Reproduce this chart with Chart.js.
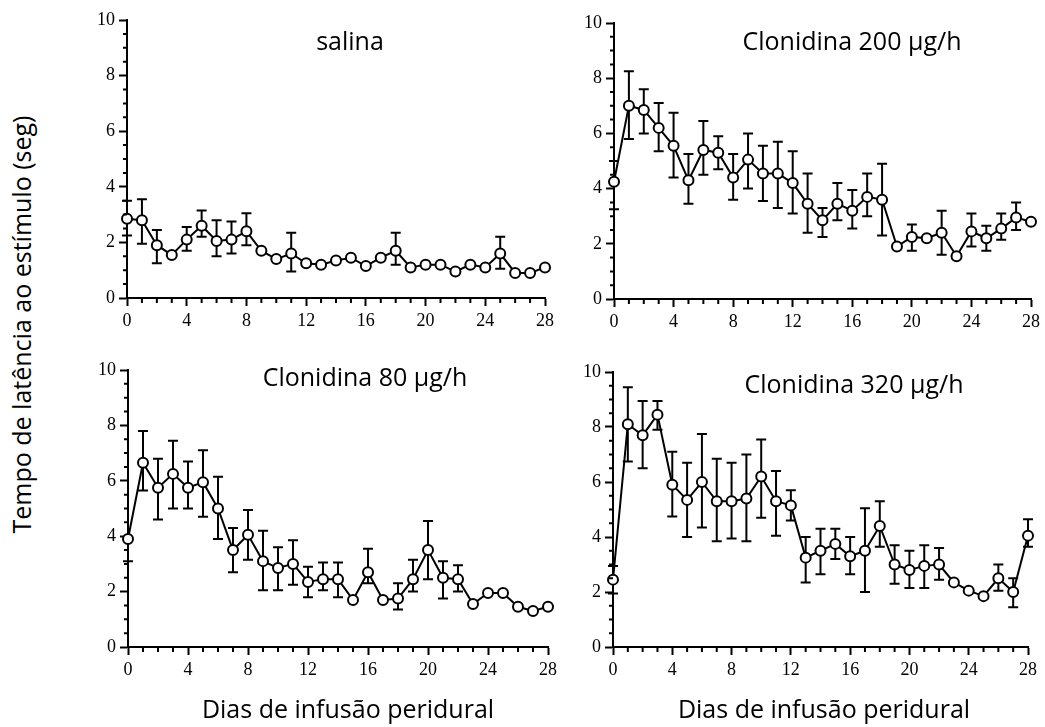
<!DOCTYPE html>
<html>
<head>
<meta charset="utf-8">
<script src="https://cdn.jsdelivr.net/npm/chart.js@4.4.1/dist/chart.umd.min.js"></script>
<style>
  body { margin: 0; background: #fff; width: 1045px; height: 727px; overflow: hidden; position: relative; }
  canvas { position: absolute; }
  .txt { position: absolute; font-family: "Open Sans", sans-serif; font-size: 25px; line-height: 25px; color: #000; white-space: nowrap; transform: translateX(-50%); }
  #ylab { position: absolute; font-family: "Open Sans", sans-serif; font-size: 25px; line-height: 25px; color: #000; white-space: nowrap; width: 500px; height: 25px; text-align: center; transform: rotate(-90deg); }
</style>
</head>
<body>
<canvas id="c1" width="498" height="343" style="left:67px;top:0px"></canvas>
<canvas id="c2" width="490" height="341" style="left:554px;top:3px"></canvas>
<canvas id="c3" width="500" height="342" style="left:68px;top:350px"></canvas>
<canvas id="c4" width="488" height="340" style="left:553px;top:352px"></canvas>

<div class="txt" style="left:350px;top:28px">salina</div>
<div class="txt" style="left:852px;top:28px">Clonidina 200 µg/h</div>
<div class="txt" style="left:365px;top:364px">Clonidina 80 µg/h</div>
<div class="txt" style="left:854px;top:371px">Clonidina 320 µg/h</div>
<div class="txt" style="left:348px;top:696px">Dias de infusão peridural</div>
<div class="txt" style="left:824px;top:696px">Dias de infusão peridural</div>
<div id="ylab" style="left:-229px;top:312px">Tempo de latência ao estímulo (seg)</div>

<script>
const days = [0,1,2,3,4,5,6,7,8,9,10,11,12,13,14,15,16,17,18,19,20,21,22,23,24,25,26,27,28];
const xTicks = [0,4,8,12,16,20,24,28];
const yTicks = [0,2,4,6,8,10];

const salinaMean = [2.85,2.8,1.9,1.55,2.1,2.6,2.05,2.1,2.4,1.7,1.4,1.6,1.25,1.2,1.35,1.45,1.15,1.45,1.7,1.1,1.2,1.2,0.95,1.2,1.1,1.6,0.9,0.9,1.1];
const salinaUp   = [3.5,3.55,2.45,null,2.55,3.15,2.8,2.75,3.05,null,null,2.35,null,null,null,null,null,null,2.35,null,null,null,null,null,null,2.2,null,null,null];
const salinaLow  = [2.25,1.95,1.25,null,1.7,2.2,1.5,1.6,1.9,null,null,0.95,null,null,null,null,null,null,1.2,null,null,null,null,null,null,1.05,null,null,null];

const c200Mean = [4.25,7.0,6.85,6.2,5.55,4.3,5.4,5.3,4.4,5.05,4.55,4.55,4.2,3.45,2.85,3.45,3.2,3.7,3.6,1.9,2.25,2.2,2.4,1.55,2.45,2.2,2.55,2.95,2.8];
const c200Up   = [5.0,8.25,7.6,7.1,6.75,5.25,6.45,5.9,5.25,6.0,5.55,5.7,5.35,4.55,3.3,4.2,3.95,4.55,4.9,null,2.7,null,3.2,null,3.1,2.65,3.1,3.5,null];
const c200Low  = [3.25,5.8,6.0,5.35,4.4,3.45,4.5,4.7,3.6,4.0,3.55,3.3,3.1,2.4,2.25,2.85,2.55,3.0,2.3,null,1.75,null,1.6,null,1.9,1.75,2.15,2.5,null];

const c80Mean = [3.9,6.65,5.75,6.25,5.75,5.95,5.0,3.5,4.05,3.1,2.85,3.0,2.35,2.45,2.45,1.7,2.7,1.7,1.75,2.45,3.5,2.5,2.45,1.55,1.95,1.95,1.45,1.3,1.45];
const c80Up   = [null,7.8,6.8,7.45,6.7,7.1,6.15,4.3,4.95,4.2,3.6,3.85,2.9,3.05,3.05,null,3.55,null,2.3,3.15,4.55,3.1,2.95,null,null,null,null,null,null];
const c80Low  = [3.1,5.65,4.6,5.0,5.0,4.7,3.9,2.7,3.15,2.05,2.05,2.25,1.8,2.05,1.8,null,2.3,null,1.35,2.0,2.45,1.75,2.0,null,null,null,null,null,null];

const c320Mean = [2.45,8.1,7.7,8.45,5.9,5.35,6.0,5.3,5.3,5.4,6.2,5.3,5.15,3.25,3.5,3.75,3.3,3.5,4.4,3.0,2.8,2.95,3.0,2.35,2.05,1.85,2.5,2.0,4.05];
const c320Up   = [2.95,9.45,8.95,8.95,7.1,6.7,7.75,6.85,6.7,7.0,7.55,6.4,5.7,4.0,4.3,4.3,4.0,5.05,5.3,3.7,3.5,3.7,3.6,null,null,null,3.0,2.5,4.65];
const c320Low  = [1.95,6.75,6.5,7.9,4.75,4.0,4.35,3.85,3.95,3.85,4.7,4.05,4.6,2.35,2.65,3.2,2.65,2.0,3.65,2.3,2.15,2.15,2.45,null,null,null,2.05,1.45,3.65];

// error bars behind the circles
const errorBars = {
  id: 'errorBars',
  beforeDatasetsDraw(chart) {
    const ctx = chart.ctx;
    const ys = chart.scales.y;
    const pts = chart.getDatasetMeta(0).data;
    const up = chart.options.plugins.errorBars.up;
    const low = chart.options.plugins.errorBars.low;
    ctx.save();
    ctx.strokeStyle = '#000';
    ctx.lineWidth = 2;
    pts.forEach((p, i) => {
      [up[i], low[i]].forEach(v => {
        if (v == null) return;
        const yy = ys.getPixelForValue(v);
        ctx.beginPath();
        ctx.moveTo(p.x, p.y);
        ctx.lineTo(p.x, yy);
        ctx.moveTo(p.x - 5, yy);
        ctx.lineTo(p.x + 5, yy);
        ctx.stroke();
      });
    });
    ctx.restore();
  }
};

// small ticks between the labelled ones
const minorTicks = {
  id: 'minorTicks',
  afterDraw(chart) {
    const ctx = chart.ctx;
    const xs = chart.scales.x, ys = chart.scales.y;
    const a = chart.chartArea;
    ctx.save();
    ctx.strokeStyle = '#000';
    ctx.lineWidth = 2;
    ctx.beginPath();
    for (let v = 0.5; v < 10; v += 0.5) {
      if (v % 2 === 0) continue;
      const yy = ys.getPixelForValue(v);
      ctx.moveTo(a.left - 4, yy);
      ctx.lineTo(a.left, yy);
    }
    days.forEach(d => {
      if (d % 4 === 0) return;
      const xx = xs.getPixelForValue(d);
      ctx.moveTo(xx, a.bottom);
      ctx.lineTo(xx, a.bottom + 5);
    });
    ctx.stroke();
    ctx.restore();
  }
};

function makePanel(id, mean, up, low, padRight) {
  const tickFont = { family: '"Liberation Serif", serif', size: 18 };
  return new Chart(id, {
    type: 'line',
    data: {
      datasets: [{
        data: days.map((d, i) => ({ x: d, y: mean[i] })),
        borderColor: '#000',
        borderWidth: 2,
        pointRadius: 5,
        pointBorderWidth: 2,
        pointBackgroundColor: '#fff',
        pointBorderColor: '#000',
        tension: 0,
        clip: false
      }]
    },
    options: {
      responsive: false,
      animation: false,
      devicePixelRatio: 1,
      layout: { padding: { left: 0, top: 20, right: padRight, bottom: 0 } },
      plugins: {
        legend: { display: false },
        tooltip: { enabled: false },
        errorBars: { up: up, low: low }
      },
      scales: {
        x: {
          type: 'linear', min: 0, max: 28,
          afterBuildTicks: s => { s.ticks = xTicks.map(v => ({ value: v })); },
          afterFit: s => { s.height = 45; },
          ticks: { color: '#000', font: tickFont, padding: 4, maxRotation: 0 },
          grid: { drawOnChartArea: false, tickLength: 8, tickWidth: 2, color: '#000' },
          border: { color: '#000', width: 2 }
        },
        y: {
          min: 0, max: 10,
          afterBuildTicks: s => { s.ticks = yTicks.map(v => ({ value: v })); },
          afterFit: s => { s.width = 60; },
          ticks: { color: '#000', font: tickFont, padding: 4 },
          grid: { drawOnChartArea: false, tickLength: 8, tickWidth: 2, color: '#000' },
          border: { color: '#000', width: 2 }
        }
      }
    },
    plugins: [errorBars, minorTicks]
  });
}

makePanel('c1', salinaMean, salinaUp, salinaLow, 20);
makePanel('c2', c200Mean, c200Up, c200Low, 12);
makePanel('c3', c80Mean, c80Up, c80Low, 20);
makePanel('c4', c320Mean, c320Up, c320Low, 12);
</script>
</body>
</html>
